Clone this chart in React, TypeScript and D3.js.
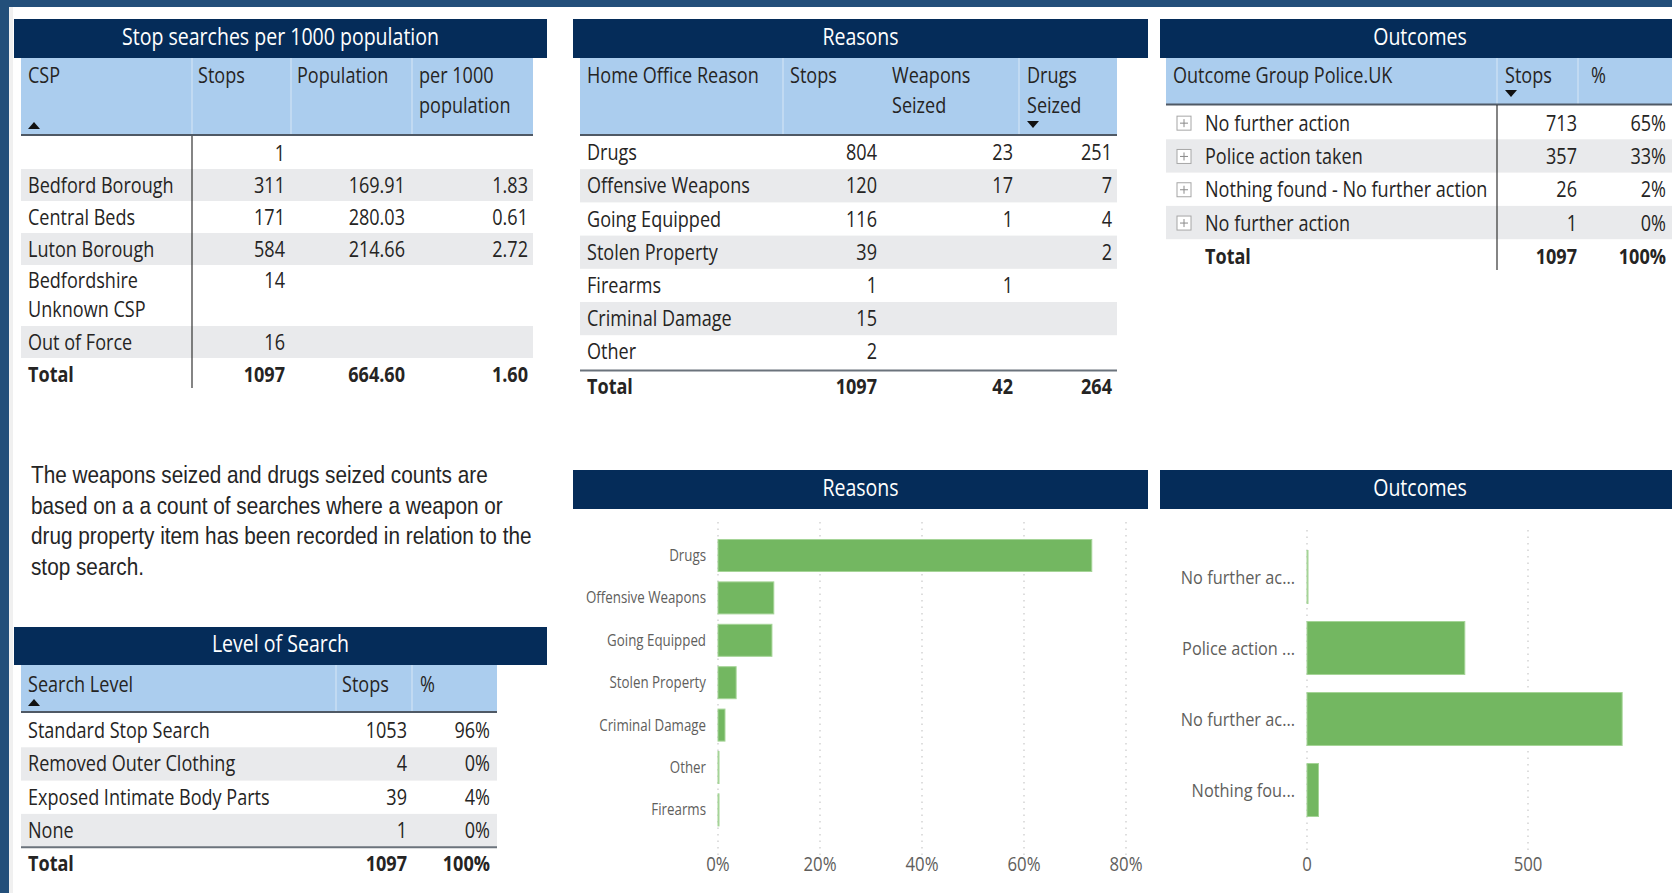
import React from "react";
import * as d3 from "d3";

// ---------- DATA ----------
const cspNames = ["", "Bedford Borough", "Central Beds", "Luton Borough", "Bedfordshire|Unknown CSP", "Out of Force"];
const cspStops = [1, 311, 171, 584, 14, 16];
const cspPopulation: (string | null)[] = [null, "169.91", "280.03", "214.66", null, null];
const cspPer1000: (string | null)[] = [null, "1.83", "0.61", "2.72", null, null];
const cspTotals = ["1097", "664.60", "1.60"];

const reasonNames = ["Drugs", "Offensive Weapons", "Going Equipped", "Stolen Property", "Firearms", "Criminal Damage", "Other"];
const reasonStops = [804, 120, 116, 39, 1, 15, 2];
const reasonWeapons: (number | null)[] = [23, 17, 1, null, 1, null, null];
const reasonDrugs: (number | null)[] = [251, 7, 4, 2, null, null, null];
const reasonTotals = [1097, 42, 264];

const outcomeNames = ["No further action", "Police action taken", "Nothing found - No further action", "No further action"];
const outcomeStops = [713, 357, 26, 1];
const outcomePct = ["65%", "33%", "2%", "0%"];
const outcomeTotals = ["1097", "100%"];

const levelNames = ["Standard Stop Search", "Removed Outer Clothing", "Exposed Intimate Body Parts", "None"];
const levelStops = [1053, 4, 39, 1];
const levelPct = ["96%", "0%", "4%", "0%"];
const levelTotals = ["1097", "100%"];

const noteLines = [
  "The weapons seized and drugs seized counts are",
  "based on a a count of searches where a weapon or",
  "drug property item has been recorded in relation to the",
  "stop search.",
];

const outcomeChartLabels = ["No further ac...", "Police action ...", "No further ac...", "Nothing fou..."];
const outcomeChartValues = [1, 357, 713, 26];
const outcomeTicks = [0, 500];
const reasonTicks = [0, 0.2, 0.4, 0.6, 0.8];

// ---------- STYLE ----------
const NAVY = "#052c59";
const BAND = "#234f7a";
const HEAD = "#abcdee";
const STRIPE = "#e9eaec";
const TXT = "#252423";
const GREEN = "#73b761";
const AXIS = "#605e5c";
const FONT = "'Open Sans', 'Noto Sans', sans-serif";
const SX = 0.86;

type TP = { x: number; y: number; a?: string; size?: number; w?: number; fill?: string; fam?: string; sx?: number; children: any };
function T({ x, y, a = "start", size = 21, w = 400, fill = TXT, fam = FONT, sx = SX, children }: TP) {
  return (
    <text transform={`translate(${x},${y}) scale(${sx},1)`} textAnchor={a as any} fontSize={size} fontWeight={w} fill={fill} fontFamily={fam}>
      {children}
    </text>
  );
}

function TitleBar({ x0, x1, y0, y1, label }: { x0: number; x1: number; y0: number; y1: number; label: string }) {
  return (
    <g>
      <rect x={x0} y={y0} width={x1 - x0} height={y1 - y0} fill={NAVY} />
      <T x={(x0 + x1) / 2} y={(y0 + y1) / 2 + 6} a="middle" size={23} sx={0.85} fill="#ffffff">{label}</T>
    </g>
  );
}

const Up = ({ x, y }: { x: number; y: number }) => <path d={`M${x},${y + 4} L${x + 12},${y + 4} L${x + 6},${y - 3} Z`} fill="#111" />;
const Down = ({ x, y }: { x: number; y: number }) => <path d={`M${x},${y - 4} L${x + 12},${y - 4} L${x + 6},${y + 3} Z`} fill="#111" />;

function PanelCSP() {
  const L = 21, R = 533;
  const divs = [192, 291, 412];
  const heights = [32, 32, 32, 32, 61, 32];
  let top = 137;
  const rows = heights.map((h) => { const r = { top, h }; top += h; return r; });
  const totalC = top + 16;
  return (
    <g>
      <TitleBar x0={14} x1={547} y0={19} y1={58} label="Stop searches per 1000 population" />
      <rect x={L} y={58} width={R - L} height={77} fill={HEAD} />
      {divs.map((d) => <line key={d} x1={d} x2={d} y1={58} y2={135} stroke="#c9def3" strokeWidth={1.5} />)}
      <T x={28} y={83}>CSP</T>
      <T x={198} y={83}>Stops</T>
      <T x={297} y={83}>Population</T>
      <T x={419} y={83}>per 1000</T>
      <T x={419} y={113}>population</T>
      <Up x={28} y={125} />
      {rows.map((r, i) => i % 2 === 1 ? <rect key={i} x={L} y={r.top} width={R - L} height={r.h} fill={STRIPE} /> : null)}
      <line x1={L} x2={R} y1={135} y2={135} stroke="#4f5965" strokeWidth={2} />
      {rows.map((r, i) => {
        const parts = cspNames[i].split("|");
        const c = parts.length > 1 ? r.top + 15.5 : r.top + r.h / 2;
        return (
          <g key={i}>
            {parts.map((p, j) => <T key={j} x={28} y={c + 7.5 + j * 29}>{p}</T>)}
            <T x={285} y={c + 7.5} a="end">{cspStops[i]}</T>
            {cspPopulation[i] && <T x={405} y={c + 7.5} a="end">{cspPopulation[i]}</T>}
            {cspPer1000[i] && <T x={528} y={c + 7.5} a="end">{cspPer1000[i]}</T>}
          </g>
        );
      })}
      <T x={28} y={totalC + 7.5} w={700}>Total</T>
      <T x={285} y={totalC + 7.5} a="end" w={700}>{cspTotals[0]}</T>
      <T x={405} y={totalC + 7.5} a="end" w={700}>{cspTotals[1]}</T>
      <T x={528} y={totalC + 7.5} a="end" w={700}>{cspTotals[2]}</T>
      <line x1={192} x2={192} y1={136} y2={388} stroke="#333" strokeWidth={1.2} />
    </g>
  );
}

function PanelReasonsTable() {
  const L = 580, R = 1117;
  const h = 33.2, top0 = 136;
  const lineY = top0 + h * reasonNames.length + 2;
  return (
    <g>
      <TitleBar x0={573} x1={1148} y0={19} y1={58} label="Reasons" />
      <rect x={L} y={58} width={R - L} height={77} fill={HEAD} />
      {[783, 1019].map((d) => <line key={d} x1={d} x2={d} y1={58} y2={135} stroke="#c9def3" strokeWidth={1.5} />)}
      <T x={587} y={83}>Home Office Reason</T>
      <T x={790} y={83}>Stops</T>
      <T x={892} y={83}>Weapons</T>
      <T x={892} y={113}>Seized</T>
      <T x={1027} y={83}>Drugs</T>
      <T x={1027} y={113}>Seized</T>
      <Down x={1027} y={125} />
      {reasonNames.map((n, i) => i % 2 === 1 ? <rect key={i} x={L} y={top0 + i * h} width={R - L} height={h} fill={STRIPE} /> : null)}
      <line x1={L} x2={R} y1={135} y2={135} stroke="#4f5965" strokeWidth={2} />
      {reasonNames.map((n, i) => {
        const y = top0 + i * h + h / 2 + 7.5;
        return (
          <g key={i}>
            <T x={587} y={y}>{n}</T>
            <T x={877} y={y} a="end">{reasonStops[i]}</T>
            {reasonWeapons[i] != null && <T x={1013} y={y} a="end">{reasonWeapons[i]}</T>}
            {reasonDrugs[i] != null && <T x={1112} y={y} a="end">{reasonDrugs[i]}</T>}
          </g>
        );
      })}
      <line x1={L} x2={R} y1={lineY} y2={lineY} stroke="#6b737c" strokeWidth={2} />
      <T x={587} y={lineY + 24} w={700}>Total</T>
      <T x={877} y={lineY + 24} a="end" w={700}>{reasonTotals[0]}</T>
      <T x={1013} y={lineY + 24} a="end" w={700}>{reasonTotals[1]}</T>
      <T x={1112} y={lineY + 24} a="end" w={700}>{reasonTotals[2]}</T>
    </g>
  );
}

function Plus({ cx, cy }: { cx: number; cy: number }) {
  return (
    <g>
      <rect x={cx - 7} y={cy - 7} width={14} height={14} fill="#fff" stroke="#a6a6a6" strokeWidth={1} />
      <line x1={cx - 4} x2={cx + 4} y1={cy} y2={cy} stroke="#8a8a8a" strokeWidth={1} />
      <line x1={cx} x2={cx} y1={cy - 4} y2={cy + 4} stroke="#8a8a8a" strokeWidth={1} />
    </g>
  );
}

function PanelOutcomesTable() {
  const L = 1166, R = 1672;
  const h = 33.3, top0 = 106;
  const totalC = top0 + h * outcomeNames.length + 17;
  return (
    <g>
      <TitleBar x0={1160} x1={1680} y0={19} y1={58} label="Outcomes" />
      <rect x={L} y={58} width={R - L} height={46} fill={HEAD} />
      {[1497, 1578].map((d) => <line key={d} x1={d} x2={d} y1={58} y2={104} stroke="#c9def3" strokeWidth={1.5} />)}
      <T x={1173} y={83}>Outcome Group Police.UK</T>
      <T x={1505} y={83}>Stops</T>
      <T x={1591} y={83}>%</T>
      <Down x={1505} y={94} />
      {outcomeNames.map((n, i) => i % 2 === 1 ? <rect key={i} x={L} y={top0 + i * h} width={R - L} height={h} fill={STRIPE} /> : null)}
      <line x1={L} x2={R} y1={104.5} y2={104.5} stroke="#4f5965" strokeWidth={2} />
      {outcomeNames.map((n, i) => {
        const c = top0 + i * h + h / 2 + 0.5;
        return (
          <g key={i}>
            <Plus cx={1184} cy={c} />
            <T x={1205} y={c + 7.5}>{n}</T>
            <T x={1577} y={c + 7.5} a="end">{outcomeStops[i]}</T>
            <T x={1666} y={c + 7.5} a="end">{outcomePct[i]}</T>
          </g>
        );
      })}
      <T x={1205} y={totalC + 7.5} w={700}>Total</T>
      <T x={1577} y={totalC + 7.5} a="end" w={700}>{outcomeTotals[0]}</T>
      <T x={1666} y={totalC + 7.5} a="end" w={700}>{outcomeTotals[1]}</T>
      <line x1={1497} x2={1497} y1={105} y2={270} stroke="#333" strokeWidth={1.2} />
    </g>
  );
}

function Note() {
  return (
    <g>
      {noteLines.map((l, i) => (
        <T key={i} x={31} y={483 + i * 30.5} size={24} sx={0.865} fam="'Liberation Sans', Arial, sans-serif" fill="#252525">{l}</T>
      ))}
    </g>
  );
}

function PanelLevel() {
  const L = 21, R = 497;
  const h = 33.3, top0 = 714;
  const lineY = top0 + h * levelNames.length;
  return (
    <g>
      <TitleBar x0={14} x1={547} y0={627} y1={665} label="Level of Search" />
      <rect x={L} y={665} width={R - L} height={47} fill={HEAD} />
      {[336, 412].map((d) => <line key={d} x1={d} x2={d} y1={665} y2={712} stroke="#c9def3" strokeWidth={1.5} />)}
      <T x={28} y={692}>Search Level</T>
      <T x={342} y={692}>Stops</T>
      <T x={420} y={692}>%</T>
      <Up x={28} y={702} />
      {levelNames.map((n, i) => i % 2 === 1 ? <rect key={i} x={L} y={top0 + i * h} width={R - L} height={h} fill={STRIPE} /> : null)}
      <line x1={L} x2={R} y1={712} y2={712} stroke="#4f5965" strokeWidth={2} />
      {levelNames.map((n, i) => {
        const y = top0 + i * h + h / 2 + 7.5;
        return (
          <g key={i}>
            <T x={28} y={y}>{n}</T>
            <T x={407} y={y} a="end">{levelStops[i]}</T>
            <T x={490} y={y} a="end">{levelPct[i]}</T>
          </g>
        );
      })}
      <line x1={L} x2={R} y1={lineY} y2={lineY} stroke="#6b737c" strokeWidth={2} />
      <T x={28} y={lineY + 24} w={700}>Total</T>
      <T x={407} y={lineY + 24} a="end" w={700}>{levelTotals[0]}</T>
      <T x={490} y={lineY + 24} a="end" w={700}>{levelTotals[1]}</T>
    </g>
  );
}

function ReasonsChart() {
  const total = d3.sum(reasonStops);
  const data = reasonNames.map((n, i) => ({ n, v: reasonStops[i] / total })).sort((a, b) => b.v - a.v);
  const x = d3.scaleLinear().domain([0, 0.8]).range([718, 1126]);
  const y = d3.scaleBand().domain(data.map((d) => d.n)).range([534.3, 831.1]).paddingInner(0.245).paddingOuter(0.1225);
  const fmt = d3.format(".0%");
  return (
    <g>
      <TitleBar x0={573} x1={1148} y0={470} y1={509} label="Reasons" />
      {reasonTicks.map((t) => (
        <line key={t} x1={x(t)} x2={x(t)} y1={522} y2={855} stroke="#c8c8c8" strokeWidth={1.2} strokeDasharray="1.5,5" />
      ))}
      {data.map((d) => (
        <g key={d.n}>
          <rect x={x(0)} y={y(d.n)!} width={Math.max(1, x(d.v) - x(0))} height={y.bandwidth()} fill={GREEN} stroke="#a5d497" strokeWidth={1} />
          <T x={706} y={y(d.n)! + y.bandwidth() / 2 + 5.5} a="end" size={15.5} fill={AXIS}>{d.n}</T>
        </g>
      ))}
      {reasonTicks.map((t) => (
        <T key={t} x={x(t)} y={871} a="middle" size={19.5} fill={AXIS}>{fmt(t)}</T>
      ))}
    </g>
  );
}

function OutcomesChart() {
  const x = d3.scaleLinear().domain([0, 500]).range([1307, 1528]);
  const y = d3.scaleBand().domain(outcomeChartLabels.map((_, i) => String(i))).range([541.5, 825.5]).paddingInner(0.254).paddingOuter(0.127);
  return (
    <g>
      <TitleBar x0={1160} x1={1680} y0={470} y1={509} label="Outcomes" />
      {outcomeTicks.map((t) => (
        <line key={t} x1={x(t)} x2={x(t)} y1={530} y2={855} stroke="#c8c8c8" strokeWidth={1.2} strokeDasharray="1.5,5" />
      ))}
      {outcomeChartValues.map((v, i) => (
        <g key={i}>
          <rect x={x(0)} y={y(String(i))!} width={Math.max(1, x(v) - x(0))} height={y.bandwidth()} fill={GREEN} stroke="#a5d497" strokeWidth={1} />
          <T x={1295} y={y(String(i))! + y.bandwidth() / 2 + 7} a="end" size={19} fill={AXIS}>{outcomeChartLabels[i]}</T>
        </g>
      ))}
      {outcomeTicks.map((t) => (
        <T key={t} x={x(t)} y={871} a="middle" size={19.5} fill={AXIS}>{String(t)}</T>
      ))}
    </g>
  );
}

export default function App() {
  return (
    <div style={{ position: "fixed", left: 0, top: 0 }}>
      <svg width={1672} height={893} style={{ display: "block", background: "#ffffff" }}>
        <rect x={0} y={0} width={1672} height={893} fill="#ffffff" />
        <rect x={9} y={7} width={4} height={886} fill="#f0f0f0" />
        <rect x={0} y={0} width={1672} height={7} fill={BAND} />
        <rect x={0} y={0} width={9} height={893} fill={BAND} />
        <PanelCSP />
        <PanelReasonsTable />
        <PanelOutcomesTable />
        <Note />
        <PanelLevel />
        <ReasonsChart />
        <OutcomesChart />
      </svg>
    </div>
  );
}
